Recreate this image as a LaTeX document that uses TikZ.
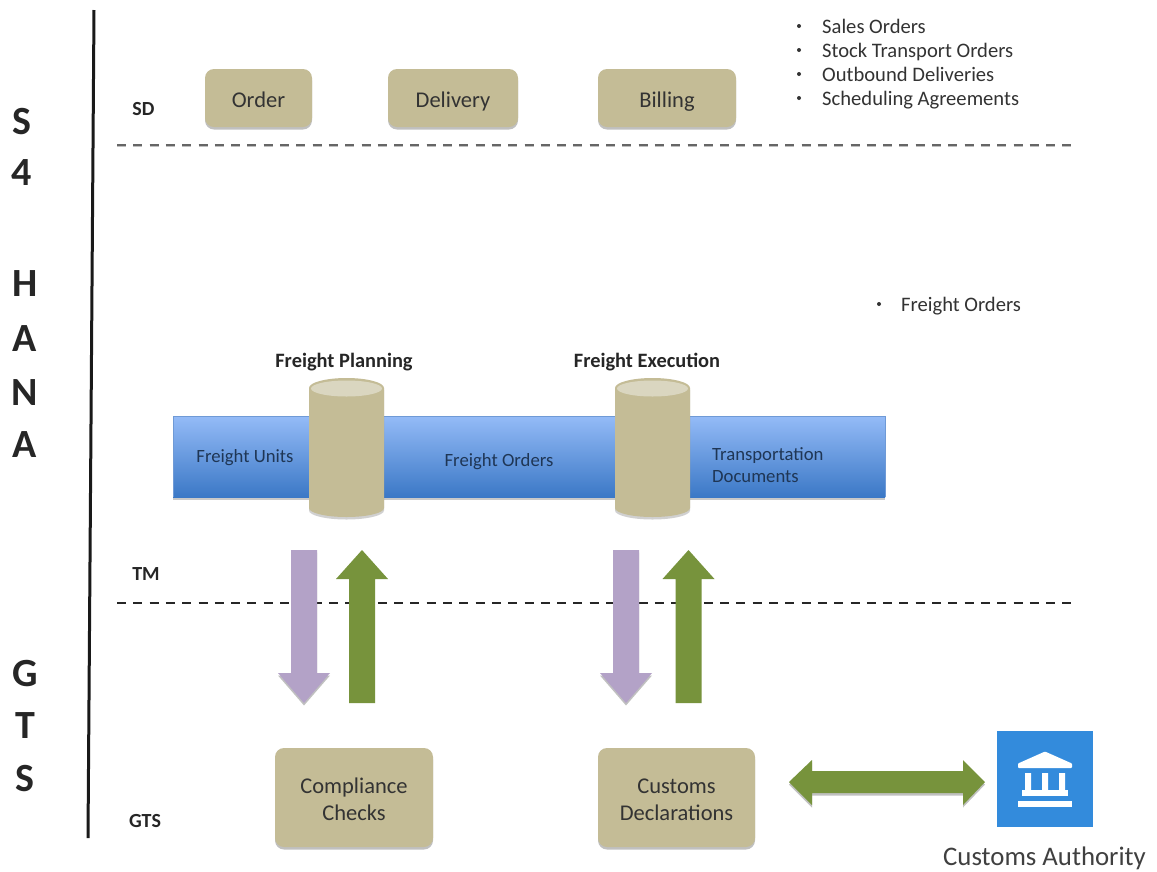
\documentclass[tikz,border=0pt]{standalone}
\usepackage{fontspec}
\setmainfont{Carlito}
\usetikzlibrary{shadows,calc}
\definecolor{khaki}{HTML}{C4BC96}
\definecolor{khakitop}{HTML}{DAD6C0}
\definecolor{lilac}{HTML}{B3A2C7}
\definecolor{olive}{HTML}{77933C}
\definecolor{barTop}{HTML}{94BBF7}
\definecolor{barBot}{HTML}{3B78C6}
\definecolor{barEdge}{HTML}{6F9AD6}
\definecolor{authority}{HTML}{338BDC}
\definecolor{inkdark}{HTML}{333333}
\definecolor{inkbar}{HTML}{1F3655}
\newcommand{\fs}[1]{\fontsize{#1}{#1}\selectfont}
\newcommand{\lowered}[1]{\raisebox{-9pt}[0pt][0pt]{#1}}
% vertical block arrow: centre x, tail y, head-base y, tip y, half shaft, half head
\newcommand{\vblock}[7]{\fill[#7] (#1-#5,#2) -- (#1-#5,#3) -- (#1-#6,#3) -- (#1,#4) -- (#1+#6,#3) -- (#1+#5,#3) -- (#1+#5,#2) -- cycle;}
\tikzset{
  softshadow/.style={drop shadow={shadow xshift=0pt,shadow yshift=-2.5pt,opacity=.35,fill=black!70}},
  stepbox/.style={rectangle,rounded corners=9pt,fill=khaki,softshadow,align=center,text=inkdark,font=\fs{22.5},inner sep=0pt,line width=0pt},
  sidelabel/.style={font=\bfseries\fs{40},text=black!85,inner sep=0pt},
  lanelabel/.style={font=\bfseries\fs{20},text=black!85,inner sep=0pt},
  headlabel/.style={font=\bfseries\fs{20.4},text=black!85,inner sep=0pt},
  barlabel/.style={font=\fs{18.7},text=inkbar,inner sep=0pt},
  listlabel/.style={font=\fs{20.6},text=inkdark,inner sep=0pt,anchor=base west},
  bulletdot/.style={circle,fill=inkdark,inner sep=0pt,minimum size=4pt},
  lanerule/.style={dash pattern=on 9pt off 7.3pt},
}
\begin{document}
\begin{tikzpicture}[x=1pt,y=-1pt]
\useasboundingbox (0,0) rectangle (1157,871);
\fill[white] (0,0) rectangle (1157,871);

% vertical rule
\coordinate (vtop) at (94,10);
\coordinate (vbot) at (88,838);
\draw[line width=3pt,black!90] (vtop) -- (vbot);

% side letters
\node[sidelabel] (s1) at (22,122) {S};
\node[sidelabel] (s2) at (22,173) {4};
\node[sidelabel] (s3) at (25,284) {H};
\node[sidelabel] (s4) at (25,339) {A};
\node[sidelabel] (s5) at (25,393) {N};
\node[sidelabel] (s6) at (25,445) {A};
\node[sidelabel] (s7) at (25,674) {G};
\node[sidelabel] (s8) at (25,726) {T};
\node[sidelabel] (s9) at (25,779) {S};

% lane labels
\node[lanelabel] (sd) at (143.5,109) {SD};
\node[lanelabel] (tm) at (146,574) {TM};
\node[lanelabel] (gts) at (145,821) {GTS};

% lane rules
\coordinate (r1a) at (117,145);
\coordinate (r1b) at (1072,145);
\coordinate (r2a) at (117,603);
\coordinate (r2b) at (1072,603);
\draw[lanerule,line width=3.6pt,black!25] ($(r1a)+(0,.5)$) -- ($(r1b)+(0,.5)$);
\draw[lanerule,line width=2.6pt,black!60] (r1a) -- (r1b);
\draw[lanerule,line width=2pt,black!85] (r2a) -- (r2b);

% SD boxes
\node[stepbox,minimum width=107pt,minimum height=58pt] (order) at (258.5,98) {\lowered{Order}};
\node[stepbox,minimum width=130pt,minimum height=58pt] (delivery) at (453,98) {\lowered{Delivery}};
\node[stepbox,minimum width=138pt,minimum height=58pt] (billing) at (667,98) {\lowered{Billing}};

% top list
\foreach \yy/\txt/\nm in {33.5/Sales Orders/a,57.5/Stock Transport Orders/b,81.5/Outbound Deliveries/c,105.5/Scheduling Agreements/d}{
  \node[bulletdot] (dot\nm) at (799,\yy-7.5) {};
  \node[listlabel] (item\nm) at (822,\yy) {\txt};
}
\node[bulletdot] (dote) at (879,304) {};
\node[listlabel] (iteme) at (901,311.5) {Freight Orders};

% freight bar
\fill[black!60,opacity=.35] (173,418) rectangle (885,500);
\shade[top color=barTop,bottom color=barBot] (173,416) rectangle (885,497);
\draw[barEdge,line width=.8pt] (173,497) -- (173,416) -- (885,416) -- (885,497);
\node[barlabel] (fu) at (245,457.5) {Freight Units};
\node[barlabel] (fo) at (499,462) {Freight Orders};
\node[barlabel,align=left,anchor=west] (td) at (712,465) {Transportation\\[4pt]Documents};

% cylinders
\foreach \cx in {346.5,652.5}{
  \fill[black!60,opacity=.3] (\cx-37.5,390) -- (\cx-37.5,510.5) arc[start angle=180,end angle=360,x radius=37.5,y radius=-9] -- (\cx+37.5,390) -- cycle;
  \fill[khaki] (\cx-37.5,388) -- (\cx-37.5,508) arc[start angle=180,end angle=360,x radius=37.5,y radius=-9] -- (\cx+37.5,388) arc[start angle=0,end angle=180,x radius=37.5,y radius=-10] -- cycle;
  \fill[khakitop] (\cx,388.5) ellipse[x radius=35.5,y radius=8];
}
\node[headlabel] (fp) at (344,362) {Freight Planning};
\node[headlabel] (fe) at (647,362) {Freight Execution};

% block arrows
\vblock{304}{550}{673}{703}{13}{26}{lilac,softshadow}
\vblock{362}{703}{579}{550}{13}{26}{olive}
\vblock{626}{550}{673}{703}{13}{26}{lilac,softshadow}
\vblock{688.5}{703}{579}{550}{13}{26}{olive}

% GTS boxes
\node[stepbox,minimum width=158pt,minimum height=99pt] (compliance) at (354,797.5) {\rule{0pt}{20pt}Compliance\\[4.5pt]Checks};
\node[stepbox,minimum width=157pt,minimum height=99pt] (customs) at (676.5,797.5) {\rule{0pt}{20pt}Customs\\[4.5pt]Declarations};

% double arrow
\fill[olive,softshadow] (789,782) -- (812,760) -- (812,771) -- (963,771) -- (963,760) -- (985,782) -- (963,805) -- (963,793) -- (812,793) -- (812,805) -- cycle;

% customs authority
\node[rectangle,fill=authority,minimum size=96pt,inner sep=0pt] (auth) at (1045,779) {};
\fill[white,rounded corners=.8pt] (1045,751.5) -- (1072,763.5) -- (1072,768) -- (1018,768) -- (1018,763.5) -- cycle;
\fill[white] (1025,773) rectangle (1031,790) (1042,773) rectangle (1048,790) (1059,773) rectangle (1065,790);
\fill[white] (1022,790) rectangle (1068,796);
\fill[white] (1018,801) rectangle (1072,807);
\node[font=\fs{26.8},text=black!75,inner sep=0pt] (authlabel) at (1044.5,858) {Customs Authority};
\end{tikzpicture}
\end{document}
